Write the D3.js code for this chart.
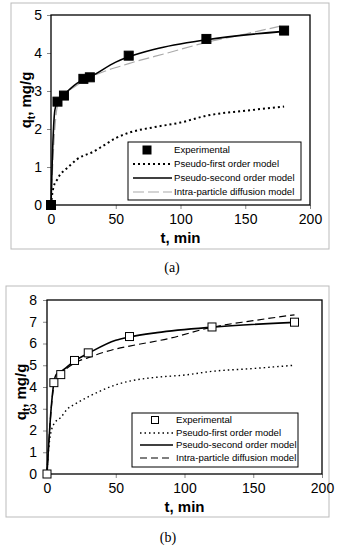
<!DOCTYPE html>
<html>
<head>
<meta charset="utf-8">
<script src="https://cdn.jsdelivr.net/npm/d3@7"></script>
<style>
  body { margin: 0; background: #fff; }
  text { font-family: "Liberation Sans", Arial, sans-serif; }
  text.caption { font-family: "Liberation Serif", "Times New Roman", serif; }
</style>
</head>
<body>
<div id="chart"></div>
<script>
// panel (a)
const tExpA = [0, 5, 10, 25, 30, 60, 120, 180];
const qExpA = [0, 2.72, 2.88, 3.32, 3.36, 3.93, 4.37, 4.59];
const tFirstA = [0, 1, 2, 5, 7, 10, 15, 20, 25, 30, 40, 50, 60, 80, 100, 120, 150, 180];
const qFirstA = [0, 0.3, 0.48, 0.68, 0.8, 0.9, 1.05, 1.2, 1.3, 1.36, 1.55, 1.76, 1.9, 2.05, 2.17, 2.35, 2.48, 2.59];
const tSecondA = [0, 1, 3, 5, 10, 20, 25, 30, 50, 60, 80, 120, 180];
const qSecondA = [0, 1.2, 2.5, 2.72, 2.9, 3.2, 3.3, 3.37, 3.76, 3.9, 4.1, 4.35, 4.57];
const tIntraA = [0, 2, 5, 10, 20, 30, 60, 90, 120, 150, 180];
const qIntraA = [0, 1.5, 2.6, 2.88, 3.15, 3.35, 3.72, 4.0, 4.28, 4.5, 4.73];

// panel (b)
const tExpB = [0, 5, 10, 20, 30, 60, 120, 180];
const qExpB = [0, 4.2, 4.57, 5.22, 5.57, 6.32, 6.76, 6.98];
const tFirstB = [0, 1, 2, 5, 10, 15, 20, 30, 40, 50, 60, 80, 100, 120, 150, 180];
const qFirstB = [0, 1.0, 1.6, 2.3, 2.6, 3.0, 3.2, 3.55, 3.85, 4.1, 4.27, 4.45, 4.55, 4.72, 4.85, 5.0];
const tSecondB = [0, 3, 5, 7, 10, 20, 30, 50, 60, 80, 120, 180];
const qSecondB = [0, 3.0, 4.2, 4.6, 4.7, 5.2, 5.55, 6.15, 6.3, 6.5, 6.75, 6.97];
const tIntraB = [0, 5, 10, 20, 30, 50, 60, 90, 120, 150, 180];
const qIntraB = [0, 4.0, 4.55, 5.1, 5.35, 5.75, 5.88, 6.25, 6.75, 7.05, 7.32];

const xTicks = [0, 50, 100, 150, 200];
const yTicksA = [0, 1, 2, 3, 4, 5];
const yTicksB = [0, 1, 2, 3, 4, 5, 6, 7, 8];
const legendNames = ["Experimental", "Pseudo-first order model", "Pseudo-second order model", "Intra-particle diffusion model"];

const zip = (ts, qs) => ts.map((t, i) => ({ t: t, q: qs[i] }));

const svg = d3.select("#chart").append("svg")
    .attr("width", 339)
    .attr("height", 550);

function drawPanel(p) {
    // outer gray frame
    svg.append("rect")
        .attr("x", p.frame[0]).attr("y", p.frame[1])
        .attr("width", p.frame[2] - p.frame[0]).attr("height", p.frame[3] - p.frame[1])
        .attr("fill", "none").attr("stroke", "#bbb");

    const x = d3.scaleLinear().domain([0, 200]).range([p.left, p.right]);
    const y = d3.scaleLinear().domain([0, p.yMax]).range([p.bottom, p.top]);

    const g = svg.append("g");

    // axes
    g.append("g")
        .attr("transform", `translate(0,${p.bottom})`)
        .call(d3.axisBottom(x).tickValues(xTicks).tickSize(4).tickPadding(p.xPad))
        .call(a => a.select(".domain").remove())
        .call(a => a.selectAll("line").attr("stroke", "#888"))
        .call(a => a.selectAll("text").attr("font-size", 14).attr("fill", "#000"));
    g.append("g")
        .attr("transform", `translate(${p.left},0)`)
        .call(d3.axisLeft(y).tickValues(p.yTicks).tickFormat(d3.format("d")).tickSize(4).tickPadding(p.yPad))
        .call(a => a.select(".domain").remove())
        .call(a => a.selectAll("line").attr("stroke", "#888"))
        .call(a => a.selectAll("text").attr("font-size", 14).attr("fill", "#000"));

    // plot border
    g.append("rect")
        .attr("x", p.left).attr("y", p.top)
        .attr("width", p.right - p.left).attr("height", p.bottom - p.top)
        .attr("fill", "none").attr("stroke", "#000").attr("stroke-width", 1.3);

    const line = d3.line().x(d => x(d.t)).y(d => y(d.q)).curve(d3.curveMonotoneX);

    g.append("path").datum(zip(p.tFirst, p.qFirst))
        .attr("d", line).attr("fill", "none")
        .attr("stroke", "#000").attr("stroke-width", p.dotW).attr("stroke-dasharray", p.dotDash);
    g.append("path").datum(zip(p.tIntra, p.qIntra))
        .attr("d", line).attr("fill", "none")
        .attr("stroke", p.intraColor).attr("stroke-width", p.intraW).attr("stroke-dasharray", p.intraDash);
    g.append("path").datum(zip(p.tSecond, p.qSecond))
        .attr("d", line).attr("fill", "none")
        .attr("stroke", "#000").attr("stroke-width", 1.6);

    const s = p.markSize;
    g.selectAll(".pt").data(zip(p.tExp, p.qExp)).enter().append("rect")
        .attr("x", d => x(d.t) - s / 2).attr("y", d => y(d.q) - s / 2)
        .attr("width", s).attr("height", s)
        .attr("fill", p.markFill).attr("stroke", "#000").attr("stroke-width", 1);

    // axis titles
    g.append("text")
        .attr("x", (p.left + p.right) / 2).attr("y", p.xTitleY)
        .attr("text-anchor", "middle").attr("font-size", 15).attr("font-weight", "bold")
        .text("t, min");
    const yt = g.append("text")
        .attr("transform", `translate(${p.yTitleX},${p.yTitleY}) rotate(-90)`)
        .attr("text-anchor", "middle").attr("font-size", 15).attr("font-weight", "bold");
    yt.append("tspan").text("q");
    yt.append("tspan").attr("font-size", 10).attr("dy", 4).text("t");
    yt.append("tspan").attr("dy", -4).text(", mg/g");

    // legend
    const L = p.legend;
    g.append("rect")
        .attr("x", L.x0).attr("y", L.y0)
        .attr("width", L.x1 - L.x0).attr("height", L.y1 - L.y0)
        .attr("fill", "#fff").attr("stroke", "#000").attr("stroke-width", 1);
    legendNames.forEach((name, i) => {
        const yy = L.rows[i];
        if (i === 0) {
            g.append("rect")
                .attr("x", L.markX - s / 2 + 0.5).attr("y", yy - s / 2 + 0.5)
                .attr("width", s - 1).attr("height", s - 1)
                .attr("fill", p.markFill).attr("stroke", "#000");
        } else {
            const ln = g.append("line")
                .attr("x1", L.lx0).attr("x2", L.lx1).attr("y1", yy).attr("y2", yy)
                .attr("fill", "none");
            if (i === 1) ln.attr("stroke", "#000").attr("stroke-width", p.dotW).attr("stroke-dasharray", p.dotDash);
            if (i === 2) ln.attr("stroke", "#000").attr("stroke-width", 1.6);
            if (i === 3) ln.attr("stroke", p.intraColor).attr("stroke-width", p.intraW).attr("stroke-dasharray", p.intraDash);
        }
        g.append("text")
            .attr("x", L.tx).attr("y", yy).attr("dy", "0.35em")
            .attr("font-size", 9.6).text(name);
    });

    // caption
    svg.append("text")
        .attr("class", "caption")
        .attr("x", p.capX).attr("y", p.capY)
        .attr("text-anchor", "middle").attr("font-size", 14)
        .text(p.caption);
}

drawPanel({
    frame: [11, 3, 329, 249],
    left: 51, right: 310, top: 15, bottom: 205, yMax: 5, yTicks: yTicksA,
    xPad: 5, yPad: 5, xTitleY: 243, yTitleX: 31, yTitleY: 100,
    tExp: tExpA, qExp: qExpA, tFirst: tFirstA, qFirst: qFirstA,
    tSecond: tSecondA, qSecond: qSecondA, tIntra: tIntraA, qIntra: qIntraA,
    dotW: 2, dotDash: "2,3", intraColor: "#aaa", intraW: 1.2, intraDash: "11,4",
    markSize: 9, markFill: "#000",
    legend: { x0: 128, x1: 301, y0: 142, y1: 200, rows: [150, 164, 178, 192], lx0: 133, lx1: 172, markX: 147, tx: 174 },
    caption: "(a)", capX: 172, capY: 272
});

drawPanel({
    frame: [6, 286, 329, 517],
    left: 47, right: 322, top: 300, bottom: 474, yMax: 8, yTicks: yTicksB,
    xPad: 5, yPad: 6, xTitleY: 512, yTitleX: 26, yTitleY: 392,
    tExp: tExpB, qExp: qExpB, tFirst: tFirstB, qFirst: qFirstB,
    tSecond: tSecondB, qSecond: qSecondB, tIntra: tIntraB, qIntra: qIntraB,
    dotW: 1.4, dotDash: "1.5,3", intraColor: "#000", intraW: 1.2, intraDash: "7,4",
    markSize: 8, markFill: "#fff",
    legend: { x0: 132, x1: 298, y0: 413, y1: 467, rows: [420, 433, 445, 458], lx0: 140, lx1: 173, markX: 155, tx: 176 },
    caption: "(b)", capX: 168, capY: 542
});
</script>
</body>
</html>
